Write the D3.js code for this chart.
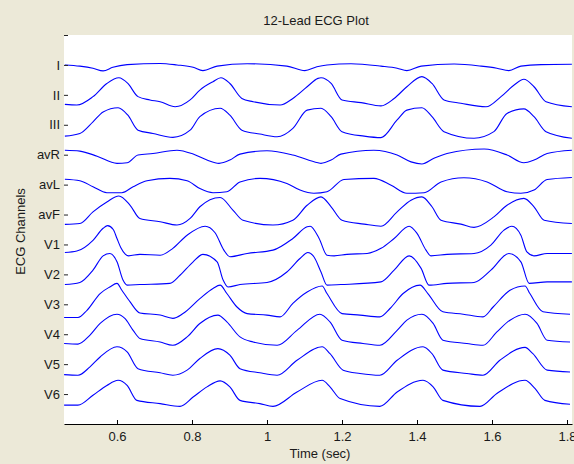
<!DOCTYPE html>
<html>
<head>
<meta charset="utf-8">
<script src="https://cdn.jsdelivr.net/npm/d3@7"></script>
<style>
  html, body { margin: 0; padding: 0; background: #ece9d8; }
  svg { display: block; }
  text { font-family: "Liberation Sans", Arial, Helvetica, sans-serif; fill: #1a1a1a; }
</style>
</head>
<body>
<svg id="chart" width="574" height="464"></svg>
<script>
// Lead names, top to bottom
const leadNames = ["I", "II", "III", "avR", "avL", "avF", "V1", "V2", "V3", "V4", "V5", "V6"];
const timeTicks = [0.6, 0.8, 1, 1.2, 1.4, 1.6, 1.8];
const timeRange = [0.4587, 1.8133];

// Samples per lead: [time (s), amplitude (channel spacing units)]
const leadI = [[0.461,0.00],[0.501,-0.04],[0.536,-0.11],[0.563,-0.20],[0.589,-0.08],[0.627,0.01],[0.715,0.05],[0.760,0.00],[0.803,-0.08],[0.829,-0.19],[0.867,-0.04],[0.947,0.04],[1.053,-0.04],[1.101,-0.19],[1.133,-0.06],[1.160,0.00],[1.224,0.04],[1.304,-0.04],[1.347,-0.11],[1.373,-0.19],[1.411,-0.04],[1.499,0.03],[1.571,-0.04],[1.613,-0.11],[1.645,-0.19],[1.677,-0.04],[1.731,0.01],[1.813,0.02]];
const leadII = [[0.461,-0.32],[0.493,-0.34],[0.536,-0.06],[0.573,0.38],[0.605,0.57],[0.629,0.38],[0.656,-0.06],[0.688,-0.17],[0.715,-0.23],[0.755,-0.40],[0.795,-0.17],[0.821,0.16],[0.856,0.44],[0.877,0.57],[0.901,0.38],[0.933,-0.12],[0.963,-0.23],[1.035,-0.34],[1.069,-0.12],[1.107,0.27],[1.136,0.55],[1.144,0.57],[1.171,0.38],[1.200,-0.17],[1.251,-0.26],[1.304,-0.37],[1.339,-0.12],[1.373,0.27],[1.413,0.61],[1.440,0.38],[1.472,-0.17],[1.517,-0.28],[1.584,-0.40],[1.624,-0.06],[1.659,0.33],[1.685,0.52],[1.712,0.27],[1.744,-0.23],[1.813,-0.40]];
const leadIII = [[0.461,-0.38],[0.501,-0.29],[0.536,0.10],[0.563,0.43],[0.603,0.57],[0.629,0.32],[0.656,-0.18],[0.696,-0.29],[0.749,-0.42],[0.795,-0.18],[0.821,0.27],[0.875,0.55],[0.901,0.32],[0.933,-0.18],[0.981,-0.31],[1.027,-0.40],[1.069,-0.12],[1.107,0.49],[1.144,0.55],[1.171,0.27],[1.200,-0.23],[1.259,-0.38],[1.304,-0.43],[1.347,0.16],[1.373,0.49],[1.413,0.57],[1.440,0.27],[1.472,-0.23],[1.552,-0.45],[1.605,-0.23],[1.640,0.38],[1.685,0.53],[1.712,0.27],[1.744,-0.23],[1.813,-0.45]];
const leadAVR = [[0.461,0.15],[0.501,0.12],[0.547,-0.05],[0.600,-0.29],[0.627,-0.27],[0.656,-0.01],[0.696,0.04],[0.760,0.15],[0.803,0.02],[0.840,-0.18],[0.872,-0.29],[0.901,-0.18],[0.928,0.02],[1.000,0.13],[1.069,-0.01],[1.136,-0.27],[1.144,-0.29],[1.171,-0.18],[1.197,0.02],[1.285,0.15],[1.347,-0.01],[1.384,-0.24],[1.413,-0.31],[1.445,-0.12],[1.480,0.04],[1.579,0.19],[1.640,-0.01],[1.685,-0.27],[1.712,-0.18],[1.747,0.04],[1.813,0.15]];
const leadAVL = [[0.461,0.18],[0.501,0.13],[0.536,-0.07],[0.573,-0.27],[0.613,-0.27],[0.643,-0.07],[0.680,0.13],[0.741,0.21],[0.787,0.13],[0.821,-0.13],[0.856,-0.27],[0.893,-0.24],[0.928,0.09],[0.981,0.21],[1.053,0.04],[1.088,-0.18],[1.125,-0.29],[1.160,-0.24],[1.205,0.17],[1.285,0.21],[1.331,-0.02],[1.373,-0.29],[1.419,-0.27],[1.464,0.09],[1.525,0.23],[1.587,0.09],[1.640,-0.24],[1.677,-0.29],[1.712,-0.18],[1.747,0.17],[1.813,0.24]];
const leadAVF = [[0.461,-0.33],[0.501,-0.30],[0.536,0.09],[0.573,0.42],[0.605,0.62],[0.635,0.31],[0.661,-0.13],[0.715,-0.24],[0.760,-0.35],[0.795,-0.13],[0.821,0.26],[0.875,0.57],[0.909,0.15],[0.936,-0.19],[1.016,-0.35],[1.069,-0.19],[1.107,0.31],[1.144,0.59],[1.171,0.26],[1.200,-0.19],[1.259,-0.32],[1.304,-0.39],[1.347,0.09],[1.384,0.48],[1.413,0.59],[1.440,0.26],[1.464,-0.19],[1.517,-0.32],[1.552,-0.43],[1.605,-0.08],[1.640,0.31],[1.685,0.54],[1.712,0.26],[1.739,-0.19],[1.813,-0.30]];
const leadV1 = [[0.461,-0.27],[0.493,-0.22],[0.536,0.14],[0.563,0.54],[0.575,0.63],[0.590,0.50],[0.600,0.20],[0.610,-0.10],[0.622,-0.32],[0.631,-0.38],[0.661,-0.33],[0.715,-0.36],[0.749,-0.13],[0.787,0.31],[0.835,0.61],[0.861,0.40],[0.885,-0.19],[0.901,-0.41],[0.947,-0.30],[1.016,-0.19],[1.069,0.20],[1.107,0.59],[1.115,0.61],[1.139,0.20],[1.160,-0.36],[1.179,-0.38],[1.213,-0.33],[1.267,-0.30],[1.304,-0.13],[1.339,0.20],[1.379,0.61],[1.400,0.37],[1.424,-0.19],[1.437,-0.38],[1.480,-0.33],[1.552,-0.30],[1.597,-0.02],[1.632,0.48],[1.653,0.61],[1.677,0.31],[1.693,-0.25],[1.712,-0.38],[1.747,-0.30],[1.813,-0.30]];
const leadV2 = [[0.461,-0.34],[0.501,-0.27],[0.536,0.14],[0.563,0.62],[0.581,0.70],[0.600,0.42],[0.616,-0.19],[0.627,-0.36],[0.661,-0.34],[0.741,-0.30],[0.768,-0.03],[0.803,0.42],[0.829,0.67],[0.867,0.42],[0.883,-0.19],[0.896,-0.42],[0.928,-0.34],[1.000,-0.27],[1.053,0.08],[1.088,0.53],[1.109,0.73],[1.125,0.59],[1.144,0.08],[1.160,-0.36],[1.197,-0.34],[1.304,-0.25],[1.339,0.14],[1.379,0.62],[1.411,0.20],[1.432,-0.36],[1.480,-0.30],[1.552,-0.27],[1.597,0.14],[1.645,0.70],[1.677,0.42],[1.699,-0.30],[1.747,-0.25],[1.813,-0.25]];
const leadV3 = [[0.459,-0.44],[0.496,-0.44],[0.520,-0.20],[0.555,0.36],[0.581,0.58],[0.600,0.70],[0.613,0.47],[0.635,0.08],[0.661,-0.29],[0.715,-0.36],[0.749,-0.47],[0.776,-0.31],[0.821,0.19],[0.856,0.53],[0.875,0.64],[0.893,0.36],[0.920,-0.09],[0.947,-0.31],[1.000,-0.36],[1.035,-0.42],[1.069,0.03],[1.107,0.41],[1.147,0.61],[1.160,0.36],[1.200,-0.31],[1.248,-0.36],[1.301,-0.42],[1.328,-0.14],[1.363,0.36],[1.408,0.64],[1.429,0.36],[1.469,-0.25],[1.523,-0.33],[1.576,-0.42],[1.603,-0.09],[1.648,0.47],[1.688,0.61],[1.701,0.36],[1.736,-0.25],[1.808,-0.33]];
const leadV4 = [[0.459,-0.31],[0.496,-0.33],[0.528,-0.03],[0.555,0.36],[0.600,0.67],[0.621,0.53],[0.643,0.13],[0.661,-0.14],[0.715,-0.26],[0.749,-0.37],[0.787,-0.09],[0.821,0.36],[0.869,0.64],[0.893,0.41],[0.928,-0.09],[0.963,-0.26],[1.027,-0.37],[1.080,0.13],[1.141,0.67],[1.168,0.41],[1.200,-0.20],[1.256,-0.31],[1.301,-0.37],[1.347,0.13],[1.373,0.47],[1.413,0.67],[1.443,0.36],[1.469,-0.20],[1.533,-0.31],[1.576,-0.37],[1.613,0.08],[1.648,0.47],[1.688,0.67],[1.720,0.36],[1.747,-0.20],[1.808,-0.26]];
const leadV5 = [[0.459,-0.35],[0.496,-0.37],[0.528,-0.09],[0.555,0.24],[0.600,0.58],[0.627,0.41],[0.656,-0.15],[0.715,-0.29],[0.749,-0.37],[0.787,-0.20],[0.821,0.19],[0.869,0.52],[0.901,0.30],[0.928,-0.15],[0.981,-0.29],[1.027,-0.37],[1.080,0.13],[1.147,0.58],[1.168,0.35],[1.203,-0.20],[1.248,-0.31],[1.301,-0.37],[1.347,0.13],[1.416,0.58],[1.440,0.35],[1.469,-0.20],[1.533,-0.31],[1.576,-0.37],[1.621,0.13],[1.688,0.56],[1.709,0.35],[1.747,-0.20],[1.808,-0.26]];
const leadV6 = [[0.459,-0.37],[0.496,-0.37],[0.536,-0.04],[0.573,0.29],[0.603,0.46],[0.627,0.29],[0.653,-0.21],[0.715,-0.32],[0.768,-0.41],[0.803,-0.10],[0.840,0.24],[0.875,0.44],[0.901,0.24],[0.928,-0.21],[0.981,-0.32],[1.016,-0.41],[1.080,0.07],[1.147,0.46],[1.168,0.24],[1.195,-0.15],[1.301,-0.41],[1.347,0.07],[1.416,0.46],[1.443,0.24],[1.469,-0.21],[1.568,-0.41],[1.613,0.02],[1.688,0.46],[1.715,0.18],[1.741,-0.21],[1.808,-0.34]];

const leads = [leadI, leadII, leadIII, leadAVR, leadAVL, leadAVF, leadV1, leadV2, leadV3, leadV4, leadV5, leadV6];

const W = 574, H = 464;
const margin = { top: 35, right: 2, bottom: 40, left: 64 };
const svg = d3.select("#chart");

const x = d3.scaleLinear().domain(timeRange).range([margin.left, W - margin.right]);
// channel slots: 0 (empty top slot) .. 12, axis floor at 13
const y = d3.scaleLinear().domain([0, leadNames.length + 1]).range([margin.top, H - margin.bottom]);

// white axes background
svg.append("rect")
  .attr("x", margin.left).attr("y", margin.top)
  .attr("width", W - margin.right - margin.left)
  .attr("height", H - margin.bottom - margin.top)
  .attr("fill", "#ffffff");

// traces, each lead offset to its channel slot
svg.append("clipPath").attr("id", "plotClip").append("rect")
  .attr("x", margin.left).attr("y", margin.top)
  .attr("width", W - margin.right - margin.left)
  .attr("height", H - margin.bottom - margin.top);

const traces = svg.append("g").attr("clip-path", "url(#plotClip)");
leads.forEach((samples, i) => {
  const slot = i + 1;
  const line = d3.line()
    .x(d => x(d[0]))
    .y(d => y(slot - d[1]))
    .curve(d3.curveMonotoneX);
  traces.append("path")
    .datum(samples)
    .attr("d", line)
    .attr("fill", "none")
    .attr("stroke", "#0000ff")
    .attr("stroke-width", 1.1)
    .attr("stroke-linejoin", "round");
});

// x axis
const xAxis = d3.axisBottom(x)
  .tickValues(timeTicks)
  .tickFormat(d => String(d))
  .tickSizeInner(-4)
  .tickSizeOuter(0)
  .tickPadding(8);
const gx = svg.append("g")
  .attr("transform", `translate(0,${H - margin.bottom})`)
  .call(xAxis);
gx.select(".domain").attr("stroke", "#000");
gx.selectAll(".tick line").attr("stroke", "#000");
gx.selectAll(".tick text").attr("font-size", 13).attr("fill", "#1a1a1a")
  .attr("font-family", '"Liberation Sans", Arial, sans-serif');

// y axis: one tick per channel slot, top slot unlabeled
const yAxis = d3.axisLeft(y)
  .tickValues(d3.range(0, leadNames.length + 1))
  .tickFormat(d => d === 0 ? "" : leadNames[d - 1])
  .tickSizeInner(-4)
  .tickSizeOuter(0)
  .tickPadding(4);
const gy = svg.append("g")
  .attr("transform", `translate(${margin.left},0)`)
  .call(yAxis);
gy.select(".domain").remove();
gy.selectAll(".tick line").attr("stroke", "#222");
gy.selectAll(".tick text").attr("font-size", 13).attr("fill", "#1a1a1a")
  .attr("font-family", '"Liberation Sans", Arial, sans-serif');

// titles
svg.append("text")
  .attr("x", (margin.left + W - margin.right) / 2 - 2)
  .attr("y", 25)
  .attr("text-anchor", "middle")
  .attr("font-size", 13)
  .text("12-Lead ECG Plot");

svg.append("text")
  .attr("x", (margin.left + W - margin.right) / 2 + 2)
  .attr("y", 458)
  .attr("text-anchor", "middle")
  .attr("font-size", 13)
  .text("Time (sec)");

svg.append("text")
  .attr("transform", `translate(25,${(margin.top + H - margin.bottom) / 2 + 2}) rotate(-90)`)
  .attr("text-anchor", "middle")
  .attr("font-size", 13)
  .text("ECG Channels");
</script>
</body>
</html>
